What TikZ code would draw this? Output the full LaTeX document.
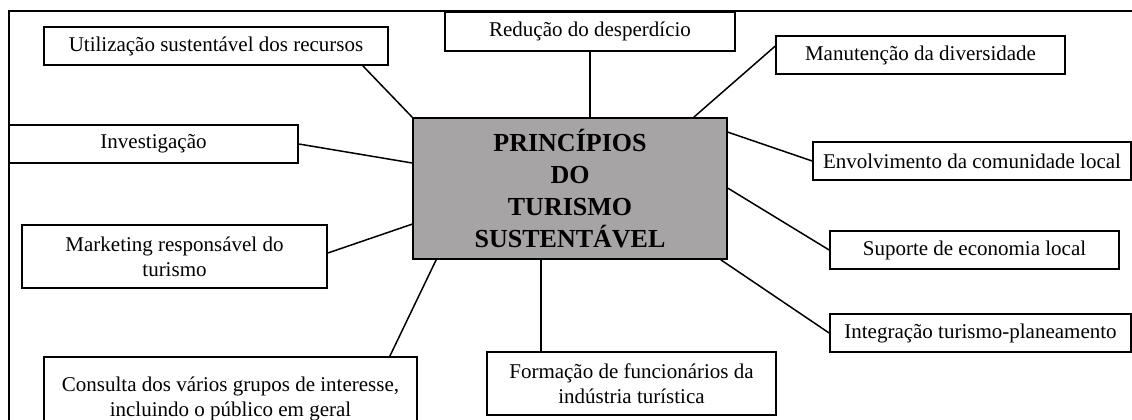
\documentclass[tikz,border=0pt]{standalone}
\usepackage{fontspec}
\setmainfont{Liberation Serif}
\definecolor{cengray}{RGB}{166,164,164}
\begin{document}
\begin{tikzpicture}[x=1pt,y=-1pt,
  bx/.style={draw=black, fill=white, line width=1.7pt, inner sep=0pt, align=center,
    font=\fontsize{21}{25}\selectfont},
  cbox/.style={draw=black, fill=cengray, line width=1.7pt, inner sep=0pt, align=center,
    font=\bfseries\fontsize{26}{32}\selectfont},
  conn/.style={draw=black, line width=1.5pt}]
\useasboundingbox (0,0) rectangle (1132,420);
\clip (0,0) rectangle (1132,420);
% outer frame
\draw[line width=1.7pt] (9,11) rectangle (1150,440);
% central node
\node[cbox, minimum width=314pt, minimum height=141pt] (cen) at (570,188.5)
  {PRINCÍPIOS\\DO\\TURISMO\\SUSTENTÁVEL};
% satellites
\node[bx, minimum width=344pt, minimum height=38pt] (util) at (216,46) {Utilização sustentável dos recursos};
\node[bx, minimum width=289pt, minimum height=38pt] (inv) at (153.5,144) {Investigação};
\node[bx, minimum width=290pt, minimum height=39pt] (red) at (590,31.5) {Redução do desperdício};
\node[bx, minimum width=289pt, minimum height=38pt] (man) at (920.5,55) {Manutenção da diversidade};
\node[bx, minimum width=318pt, minimum height=38pt] (env) at (972,161) {Envolvimento da comunidade local};
\node[bx, minimum width=289pt, minimum height=38pt] (sup) at (974.5,250) {Suporte de economia local};
\node[bx, minimum width=301pt, minimum height=38pt] (int) at (980.5,333) {Integração turismo-planeamento};
\node[bx, minimum width=289pt, minimum height=63pt] (form) at (631.5,383.5) {Formação de funcionários da\\indústria turística};
\node[bx, minimum width=373pt, minimum height=84pt] (cons) at (230.5,399) {Consulta dos vários grupos de interesse,\\incluindo o público em geral};
\node[bx, minimum width=305pt, minimum height=63pt] (mkt) at (174.5,256.5) {Marketing responsável do\\turismo};
% connectors
\draw[conn] ([xshift=-26pt]util.south east) -- (cen.north west);
\draw[conn] (inv.east) -- ([yshift=25.5pt]cen.west);
\draw[conn] (red.south) -- (red.south |- cen.north);
\draw[conn] ([yshift=-11pt]man.north west) -- ([xshift=-34pt]cen.north east);
\draw[conn] ([yshift=-15pt]cen.north east) -- (env.west);
\draw[conn] ([yshift=-71pt]cen.north east) -- (sup.west);
\draw[conn] ([xshift=-7pt]cen.south east) -- (int.west);
\coordinate (fstart) at ([xshift=-29pt]cen.south);
\draw[conn] (fstart) -- (fstart |- form.north);
\draw[conn] ([xshift=24pt]cen.south west) -- ([xshift=-28pt]cons.north east);
\draw[conn] ([yshift=3.5pt]mkt.east) -- ([yshift=-107pt]cen.north west);
\end{tikzpicture}
\end{document}
